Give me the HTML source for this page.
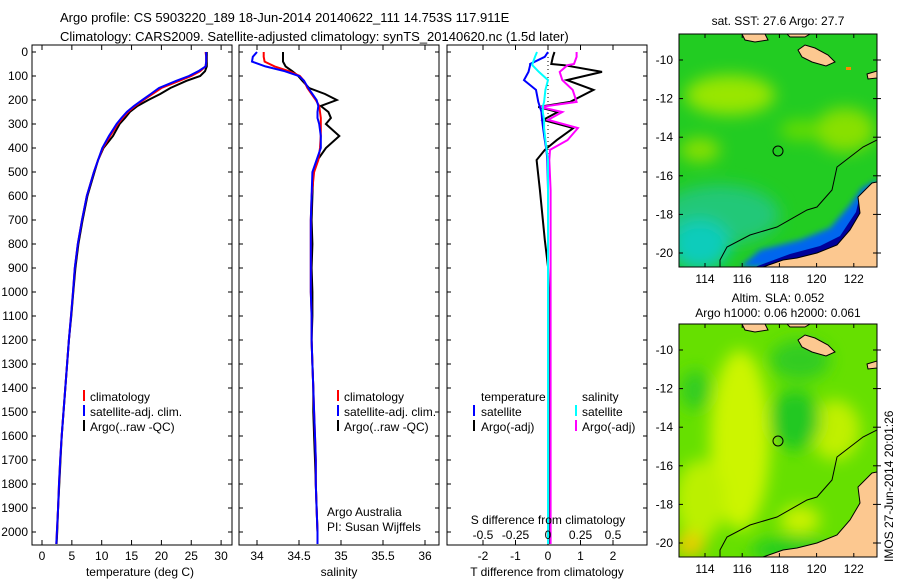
<!DOCTYPE html>
<html><head><meta charset="utf-8"><style>
html,body{margin:0;padding:0;background:#fff;}
svg{display:block;font-family:"Liberation Sans",sans-serif;}
text{font-size:12px;fill:#000;}
</style></head><body>
<svg id="fig" width="900" height="580" viewBox="0 0 900 580">
<defs>
<clipPath id="c1"><rect x="32" y="45" width="200" height="500"/></clipPath>
<clipPath id="c2"><rect x="239" y="45" width="200" height="500"/></clipPath>
<clipPath id="c3"><rect x="447" y="45" width="200" height="500"/></clipPath>
<clipPath id="m1"><rect x="679" y="34" width="198" height="233"/></clipPath>
<clipPath id="m2"><rect x="679" y="324" width="198" height="233"/></clipPath>
<filter id="bl" x="-50%" y="-50%" width="200%" height="200%"><feGaussianBlur stdDeviation="8"/></filter>
<filter id="bl2" x="-50%" y="-50%" width="200%" height="200%"><feGaussianBlur stdDeviation="3"/></filter>
</defs>
<text x="60" y="22" style="font-size:13px">Argo profile: CS 5903220_189 18-Jun-2014 20140622_111 14.753S 117.911E</text>
<text x="60" y="41" style="font-size:13px">Climatology: CARS2009. Satellite-adjusted climatology: synTS_20140620.nc (1.5d later)</text>

<g id="axes"></g>
<g id="lines"></g>

<!-- legends -->
<g>
<rect x="83" y="390" width="2" height="11" fill="#f00"/><text x="90" y="401">climatology</text>
<rect x="83" y="405" width="2" height="11" fill="#00f"/><text x="90" y="416">satellite-adj. clim.</text>
<rect x="83" y="420" width="2" height="11" fill="#000"/><text x="90" y="431">Argo(..raw -QC)</text>
</g>
<g>
<rect x="337" y="390" width="2" height="11" fill="#f00"/><text x="344" y="401">climatology</text>
<rect x="337" y="405" width="2" height="11" fill="#00f"/><text x="344" y="416">satellite-adj. clim.</text>
<rect x="337" y="420" width="2" height="11" fill="#000"/><text x="344" y="431">Argo(..raw -QC)</text>
</g>
<g>
<text x="481" y="401">temperature</text><text x="582" y="401">salinity</text>
<rect x="473" y="405" width="2" height="11" fill="#00f"/><text x="481" y="416">satellite</text>
<rect x="575" y="405" width="2" height="11" fill="#0ff"/><text x="582" y="416">satellite</text>
<rect x="473" y="420" width="2" height="11" fill="#000"/><text x="481" y="431">Argo(-adj)</text>
<rect x="575" y="420" width="2" height="11" fill="#f0f"/><text x="582" y="431">Argo(-adj)</text>
</g>
<text x="327" y="516">Argo Australia</text>
<text x="327" y="531">PI: Susan Wijffels</text>
<text x="548" y="524" text-anchor="middle">S difference from climatology</text>
<g id="sdiffticks"></g>

<text x="140" y="576" text-anchor="middle">temperature (deg C)</text>
<text x="339" y="576" text-anchor="middle">salinity</text>
<text x="547" y="576" text-anchor="middle">T difference from climatology</text>

<!-- Map 1 SST -->
<text x="778" y="25" text-anchor="middle">sat. SST: 27.6 Argo: 27.7</text>
<g clip-path="url(#m1)">
<rect x="679" y="34" width="198" height="233" fill="#22cc22"/>
<g filter="url(#bl)">
<ellipse cx="730" cy="95" rx="45" ry="20" fill="#99e600"/>
<ellipse cx="700" cy="150" rx="20" ry="12" fill="#88e000"/>
<ellipse cx="845" cy="130" rx="30" ry="22" fill="#88e000"/>
<ellipse cx="800" cy="130" rx="20" ry="10" fill="#66dd00"/>
<ellipse cx="720" cy="215" rx="60" ry="30" fill="#22c878"/>
<ellipse cx="700" cy="245" rx="30" ry="25" fill="#11ccbb"/>
</g>
<polygon points="740,267 760,250 800,240 830,228 850,205 862,188 877,180 877,200 860,225 840,248 800,262 770,267" fill="#0066ee" filter="url(#bl2)"/>
<polygon points="755,267 790,254 820,246 840,236 856,212 860,195 877,185 877,210 860,235 830,255 795,265 780,267" fill="#000099"/>
</g>
<g clip-path="url(#m1)">
<polygon points="877,182 872,183 858,197 860,213 850,230 837,245 817,253 797,258 783,260 763,267 877,267" fill="#fcc890" stroke="#000" stroke-width="1"/>
<polygon points="798,50 805,45 815,48 828,55 835,62 826,66 812,62 802,57" fill="#fcc890" stroke="#000" stroke-width="1"/>
<polygon points="742,34 765,34 768,40 755,42 745,40" fill="#fcc890" stroke="#000" stroke-width="1"/>
<polygon points="787,34 810,34 805,37 790,37" fill="#fcc890" stroke="#000" stroke-width="1"/>
<polygon points="867,74 877,71 877,78 868,79" fill="#fcc890" stroke="#000" stroke-width="1"/>
<rect x="846" y="67" width="5" height="3" fill="#f80"/>
<polyline points="877,140 863,147 837,167 832,190 817,207 807,210 777,227 750,235 727,247 720,260 720,267" fill="none" stroke="#000" stroke-width="1"/>
<circle cx="778" cy="151" r="5" fill="none" stroke="#000" stroke-width="1"/>
</g>
<rect x="679" y="34" width="198" height="233" fill="none" stroke="#000"/>

<!-- Map 2 SLA -->
<text x="778" y="302" text-anchor="middle">Altim. SLA: 0.052</text>
<text x="778" y="317" text-anchor="middle">Argo h1000: 0.06 h2000: 0.061</text>
<g clip-path="url(#m2)">
<rect x="679" y="324" width="198" height="233" fill="#66e000"/>
<g filter="url(#bl)">
<ellipse cx="740" cy="440" rx="30" ry="90" fill="#ccf500"/>
<ellipse cx="700" cy="500" rx="25" ry="40" fill="#bbf000"/>
<ellipse cx="690" cy="545" rx="15" ry="12" fill="#eecc00"/>
<ellipse cx="835" cy="430" rx="25" ry="30" fill="#c0f000"/>
<ellipse cx="800" cy="520" rx="20" ry="14" fill="#ccf200"/>
<ellipse cx="795" cy="420" rx="25" ry="30" fill="#22c822"/>
<ellipse cx="800" cy="360" rx="30" ry="20" fill="#33cc22"/>
<ellipse cx="695" cy="390" rx="15" ry="20" fill="#33cc22"/>
<ellipse cx="790" cy="550" rx="40" ry="12" fill="#22cc22"/>
</g>
</g>
<g clip-path="url(#m2)">
<polygon points="877,472 872,473 858,487 860,503 850,520 837,535 817,543 797,548 783,550 763,557 877,557" fill="#fcc890" stroke="#000" stroke-width="1"/>
<polygon points="798,340 805,335 815,338 828,345 835,352 826,356 812,352 802,347" fill="#fcc890" stroke="#000" stroke-width="1"/>
<polygon points="742,324 765,324 768,330 755,332 745,330" fill="#fcc890" stroke="#000" stroke-width="1"/>
<polygon points="787,324 810,324 805,327 790,327" fill="#fcc890" stroke="#000" stroke-width="1"/>
<polygon points="867,364 877,361 877,368 868,369" fill="#fcc890" stroke="#000" stroke-width="1"/>
<polyline points="877,430 863,437 837,457 832,480 817,497 807,500 777,517 750,525 727,537 720,550 720,557" fill="none" stroke="#000" stroke-width="1"/>
<circle cx="778" cy="441" r="5" fill="none" stroke="#000" stroke-width="1"/>
</g>
<rect x="679" y="324" width="198" height="233" fill="none" stroke="#000"/>
<g id="mapaxes"></g>
<text transform="translate(893,562) rotate(-90)" x="0" y="0">IMOS 27-Jun-2014 20:01:26</text>
</svg>
<script>
const depths   = [0,20,40,60,80,100,120,150,175,200,225,250,275,300,350,400,450,500,600,700,800,900,1000,1100,1200,1300,1400,1500,1600,1700,1800,1900,2000,2050];
const tempClim = [27.4,27.5,27.5,27.4,26.5,25,23,20,18.5,17,15.6,14.4,13.5,12.7,11.4,10.2,9.4,8.7,7.5,6.7,6.0,5.5,5.2,4.85,4.5,4.2,3.9,3.6,3.3,3.05,2.85,2.7,2.5,2.4];
const tempSat  = [27.5,27.5,27.5,27.4,26.2,24.6,22.5,19.6,18.2,16.8,15.4,14.2,13.3,12.5,11.2,10.1,9.4,8.7,7.5,6.7,6.0,5.5,5.2,4.85,4.5,4.2,3.9,3.6,3.3,3.05,2.85,2.7,2.5,2.4];
const tempArgo = [27.6,27.6,27.6,27.6,27.3,26.5,24.2,21.5,19.8,17.8,16,14.7,13.9,13.0,11.9,10.3,9.4,8.8,7.6,6.8,6.1,5.6,5.25,4.9,4.5,4.2,3.9,3.6,3.3,3.1,2.9,2.7,2.55,2.45];
const salClim  = [34.08,34.08,34.09,34.21,34.38,34.51,34.56,34.6,34.65,34.7,34.74,34.75,34.76,34.76,34.76,34.75,34.73,34.68,34.65,34.64,34.64,34.64,34.64,34.65,34.65,34.66,34.67,34.68,34.69,34.7,34.7,34.71,34.72,34.72];
const salSat   = [34.0,33.95,33.94,34.1,34.33,34.5,34.56,34.61,34.66,34.71,34.73,34.72,34.72,34.74,34.76,34.76,34.71,34.66,34.65,34.64,34.64,34.64,34.64,34.65,34.65,34.66,34.67,34.68,34.69,34.7,34.7,34.71,34.72,34.72];
const salArgo  = [34.31,34.31,34.31,34.34,34.42,34.49,34.54,34.62,34.81,34.95,34.76,34.85,34.88,34.82,34.98,34.82,34.72,34.67,34.66,34.65,34.66,34.65,34.66,34.66,34.65,34.66,34.67,34.67,34.68,34.69,34.7,34.71,34.72,34.72];
const diffDepths = [0,20,50,55,83,117,158,208,229,250,283,317,367,408,450,575,783,895,1000,1500,2050];
const dTsat  = [0,-0.1,-0.55,-0.55,-0.6,-0.74,-0.37,-0.3,-0.25,-0.2,-0.18,-0.15,-0.1,-0.05,-0.02,0,0,0,0,0,0];
const dTargo = [0.2,0.15,0.1,0.5,1.66,0.58,1.4,0.68,-0.3,0.3,-0.15,0.78,0.27,-0.1,-0.35,-0.25,-0.1,0,0.02,0.02,0.02];
const dSsat  = [-0.085,-0.1,-0.12,-0.12,-0.07,0,-0.02,-0.03,-0.04,-0.04,-0.03,-0.03,-0.02,-0.01,0,0,0,0,0,0,0];
const dSargo = [0.22,0.22,0.2,0.15,0.09,0.11,0.19,0.22,-0.06,0.11,0,0.23,0.15,0.015,0.01,0.02,0.02,0.02,0.02,0.02,0.02];
const depthTicks = [0,100,200,300,400,500,600,700,800,900,1000,1100,1200,1300,1400,1500,1600,1700,1800,1900,2000];
const tempTicks = [0,5,10,15,20,25,30];
const salTicks = [34,34.5,35,35.5,36];
const salTickLabels = ["34","34.5","35","35.5","36"];
const dTTicks = [-2,-1,0,1,2];
const dSTicks = [-0.5,-0.25,0,0.25,0.5];
const dSTickLabels = ["-0.5","-0.25","0","0.25","0.5"];
const lonTicks = [114,116,118,120,122];
const latTicks = [-10,-12,-14,-16,-18,-20];

const NS='http://www.w3.org/2000/svg';
const yD = d => 52 + d*0.24;
const xT = t => 42 + t*5.97;
const xS = s => 257 + (s-34)*84;
const xdT = v => 548 + v*32.5;
const xdS = v => 548 + v*130;
const xLon = l => 705 + (l-114)*18.6;
const yLat1 = l => 60 + (-10-l)*19.3;
const yLat2 = l => 350 + (-10-l)*19.3;

function mk(tag, attrs, parent){const e=document.createElementNS(NS,tag);for(const k in attrs)e.setAttribute(k,attrs[k]);parent.appendChild(e);return e;}
const axes=document.getElementById('axes');
const lines=document.getElementById('lines');

const panels=[[32,'temperature-panel'],[239,'salinity-panel'],[447,'difference-panel']];
panels.forEach(([x0,nm])=>{
  const r=mk('rect',{x:x0,y:45,width:200,height:500,fill:'none',stroke:'#000','stroke-width':1},axes);
  
  
  depthTicks.forEach(d=>{
    mk('line',{x1:x0,x2:x0+4,y1:yD(d),y2:yD(d),stroke:'#000'},axes);
    mk('line',{x1:x0+196,x2:x0+200,y1:yD(d),y2:yD(d),stroke:'#000'},axes);
  });
});
depthTicks.forEach(d=>{
  const t=mk('text',{x:28,y:yD(d)+4,'text-anchor':'end'},axes);t.textContent=d;
  
  
});
function xticks(vals,labels,fx){
  vals.forEach((v,i)=>{
    const x=fx(v);
    mk('line',{x1:x,x2:x,y1:45,y2:50,stroke:'#000'},axes);
    mk('line',{x1:x,x2:x,y1:540,y2:545,stroke:'#000'},axes);
    const t=mk('text',{x:x,y:560,'text-anchor':'middle'},axes);t.textContent=labels[i];
    
    
  });
}
xticks(tempTicks,tempTicks.map(String),xT);
xticks(salTicks,salTickLabels,xS);
xticks(dTTicks,dTTicks.map(String),xdT);
const sdt=document.getElementById('sdiffticks');
dSTicks.forEach((v,i)=>{
  const t=mk('text',{x:xdS(v),y:539,'text-anchor':'middle'},sdt);t.textContent=dSTickLabels[i];
  
  
});
// zero dotted line diff panel
const zl=mk('line',{x1:xdT(0),x2:xdT(0),y1:45,y2:545,stroke:'#000','stroke-dasharray':'1,3'},axes);



function series(xs,ds,fx,color,clip,name,dash){
  const pts=xs.map((v,i)=>fx(v).toFixed(1)+','+yD(ds[i]).toFixed(1)).join(' ');
  const p=mk('polyline',{points:pts,fill:'none',stroke:color,'stroke-width':2,'clip-path':'url(#'+clip+')'},lines);
  if(dash)p.setAttribute('stroke-dasharray',dash);
  
  
}
series(tempArgo,depths,xT,'#000','c1','temp-argo-line');
series(tempClim,depths,xT,'#f00','c1','temp-climatology-line');
series(tempSat,depths,xT,'#00f','c1','temp-satellite-line');
series(salArgo,depths,xS,'#000','c2','sal-argo-line');
series(salClim,depths,xS,'#f00','c2','sal-climatology-line');
series(salSat,depths,xS,'#00f','c2','sal-satellite-line');
series(dTargo,diffDepths,xdT,'#000','c3','t-diff-argo-line');
series(dSargo,diffDepths,xdS,'#f0f','c3','s-diff-argo-line');
series(dTsat,diffDepths,xdT,'#00f','c3','t-diff-satellite-line');
series(dSsat,diffDepths,xdS,'#0ff','c3','s-diff-satellite-line');

const ma=document.getElementById('mapaxes');
[[34,267,yLat1],[324,557,yLat2]].forEach(([y0,y1,fy])=>{
  lonTicks.forEach(l=>{
    const x=xLon(l);
    mk('line',{x1:x,x2:x,y1:y0,y2:y0+4,stroke:'#000'},ma);
    mk('line',{x1:x,x2:x,y1:y1-4,y2:y1,stroke:'#000'},ma);
    const t=mk('text',{x:x,y:y1+16,'text-anchor':'middle'},ma);t.textContent=l;
    
    
  });
  latTicks.forEach(l=>{
    const y=fy(l);
    mk('line',{x1:679,x2:683,y1:y,y2:y,stroke:'#000'},ma);
    mk('line',{x1:873,x2:881,y1:y,y2:y,stroke:'#000'},ma);
    const t=mk('text',{x:673,y:y+4,'text-anchor':'end'},ma);t.textContent=l;
    
    
  });
});
</script>
</body></html>
